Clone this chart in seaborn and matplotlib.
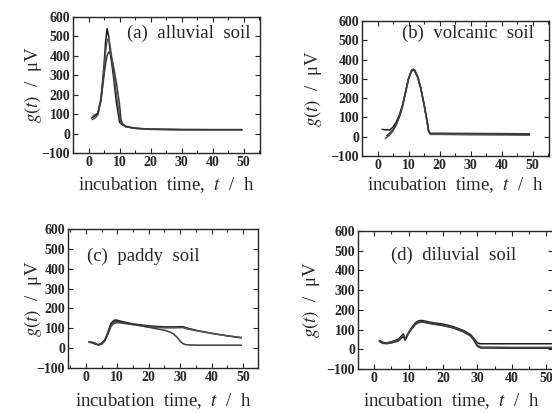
import numpy as np
import pandas as pd
import matplotlib
matplotlib.use("Agg")
import matplotlib.pyplot as plt
from matplotlib.ticker import MultipleLocator
import seaborn as sns

# (a) alluvial soil - three replicate curves
a_t1 = [1, 2, 3, 4, 5, 5.5, 6, 6.5, 7, 8, 9, 10, 10.5, 11, 12, 15, 20, 30, 40, 49.5]
a_g1 = [80, 90, 100, 180, 350, 470, 540, 500, 420, 300, 160, 60, 50, 45, 35, 27, 22, 20, 20, 20]
a_t2 = [1.2, 2, 3, 4, 5, 5.5, 6, 6.5, 7, 8, 9, 10, 10.5, 11, 12, 15, 20, 30, 40, 49.5]
a_g2 = [72, 78, 95, 170, 320, 420, 480, 490, 450, 330, 200, 90, 55, 48, 36, 27, 22, 20, 20, 20]
a_t3 = [1.5, 2, 3, 4, 5, 5.5, 6, 6.5, 7, 8, 9, 10, 10.5, 11, 12, 15, 20, 30, 40, 49.5]
a_g3 = [90, 95, 105, 170, 300, 360, 400, 420, 415, 350, 260, 150, 70, 50, 38, 28, 23, 21, 20, 20]

# (b) volcanic soil
b_t1 = [1.5, 2.5, 4, 5, 6, 7, 8, 9, 10, 11, 11.5, 12, 13, 14, 15, 16, 16.5, 17, 20, 30, 40, 49]
b_g1 = [38, 36, 35, 50, 75, 110, 160, 230, 300, 345, 350, 345, 310, 250, 170, 80, 30, 15, 15, 14, 13, 12]
b_t2 = [2.5, 4, 5, 6, 7, 8, 9, 10, 11, 11.5, 12, 13, 14, 15, 16, 16.5, 17, 20, 30, 40, 49]
b_g2 = [-10, 10, 30, 60, 100, 150, 225, 300, 340, 345, 340, 305, 245, 165, 75, 25, 12, 12, 10, 9, 8]
b_t3 = [3, 4, 5, 6, 7, 8, 9, 10, 11, 11.5, 12, 13, 14, 15, 16, 16.5, 17, 20, 30, 40, 49]
b_g3 = [5, 20, 35, 65, 105, 155, 228, 302, 342, 348, 342, 308, 248, 168, 78, 28, 18, 18, 17, 16, 15]

# (c) paddy soil
c_t1 = [1, 2, 3, 4, 5, 6, 7, 8, 9, 9.5, 10, 12, 15, 20, 25, 28, 30, 31, 32, 35, 40, 45, 49.5]
c_g1 = [30, 28, 20, 18, 25, 40, 80, 125, 140, 142, 140, 132, 122, 112, 107, 107, 108, 108, 102, 90, 75, 62, 52]
c_t2 = [1, 2, 3, 4, 5, 6, 7, 8, 9, 10, 12, 15, 20, 25, 28, 30, 31, 32, 35, 40, 45, 49.5]
c_g2 = [32, 30, 25, 15, 20, 35, 70, 110, 125, 128, 125, 118, 108, 102, 102, 103, 103, 98, 88, 74, 62, 54]
c_t3 = [1, 2, 3, 4, 5, 6, 7, 8, 9, 10, 12, 15, 20, 25, 27, 28, 29, 30, 31, 32, 35, 40, 49.5]
c_g3 = [30, 28, 22, 16, 22, 38, 75, 118, 132, 135, 128, 120, 105, 90, 80, 70, 55, 35, 22, 17, 15, 15, 15]

# (d) diluvial soil
d_t1 = [1.5, 2.5, 3.5, 5, 7, 8.5, 9, 9.5, 10, 11, 12, 13, 14, 17, 20, 23, 26, 28, 29, 30, 31, 40, 52]
d_g1 = [45, 35, 32, 38, 50, 78, 50, 70, 85, 112, 135, 145, 146, 135, 128, 115, 95, 75, 55, 32, 28, 28, 28]
d_t2 = [1.5, 2.5, 3.5, 5, 7, 8.5, 9, 9.5, 10, 11, 12, 13, 14, 17, 20, 23, 26, 28, 29, 30, 31, 40, 52]
d_g2 = [42, 32, 30, 35, 45, 70, 48, 65, 82, 108, 130, 140, 141, 130, 122, 110, 90, 70, 50, 22, 12, 10, 10]
d_t3 = [1.5, 2.5, 3.5, 5, 7, 8.5, 9, 9.5, 10, 11, 12, 13, 14, 17, 20, 23, 26, 28, 29, 30, 31, 40, 52]
d_g3 = [40, 30, 28, 32, 42, 65, 45, 62, 80, 105, 126, 136, 138, 128, 120, 108, 88, 68, 45, 15, 6, 5, 5]

titles = ["(a)  alluvial  soil", "(b)  volcanic  soil", "(c)  paddy  soil", "(d)  diluvial  soil"]
curves = [
    [(a_t1, a_g1), (a_t2, a_g2), (a_t3, a_g3)],
    [(b_t1, b_g1), (b_t2, b_g2), (b_t3, b_g3)],
    [(c_t1, c_g1), (c_t2, c_g2), (c_t3, c_g3)],
    [(d_t1, d_g1), (d_t2, d_g2), (d_t3, d_g3)],
]

sns.set_theme(style="ticks")
plt.rcParams['font.family'] = ['Liberation Serif', 'DejaVu Serif']
plt.rcParams['mathtext.fontset'] = 'stix'

W, H = 552, 413
fig = plt.figure(figsize=(W / 100, H / 100), dpi=100)

# pixel boxes: left, right, top, bottom
boxes = [(73, 260, 17, 153), (362, 549, 21, 156), (68, 258, 229, 368), (358, 553, 231, 369)]
xlims = [(-5, 55.3), (-5, 55.3), (-5.7, 54.8), (-4.7, 52)]
title_pos = [(0.95, 0.88, 'right'), (0.92, 0.91, 'right'), (0.10, 0.80, 'left'), (0.17, 0.82, 'left')]
# label centres in pixels: (xlabel x, xlabel y, ylabel x)
label_px = [(166, 185, 33), (455, 185, 313), (163, 401, 33), (451, 401, 311)]
colors = ['#1a1a1a', '#555555', '#3a3a3a']

for i, (l, r, t, b) in enumerate(boxes):
    ax = fig.add_axes([l / W, 1 - b / H, (r - l) / W, (b - t) / H])
    for j, (tt, gg) in enumerate(curves[i]):
        sns.lineplot(x=tt, y=gg, ax=ax, color=colors[j], lw=1.1, sort=False, estimator=None)
    ax.set_xlim(*xlims[i])
    ax.set_ylim(-100, 600)
    ax.set_xticks([0, 10, 20, 30, 40, 50])
    ax.set_yticks(range(-100, 601, 100))
    ax.xaxis.set_minor_locator(MultipleLocator(5))
    ax.tick_params(which='both', direction='in', top=True, right=True, width=0.8)
    ax.tick_params(which='major', length=3.5, labelsize=10, pad=2)
    ax.tick_params(which='minor', length=2)
    for lab in ax.get_xticklabels() + ax.get_yticklabels():
        lab.set_fontweight('bold')
    for s in ax.spines.values():
        s.set_linewidth(1.0)
    ax.set_xlabel("incubation  time,  $t$  /  h", fontsize=13.5, va='center')
    ax.set_ylabel("$g(t)$  /  μV", fontsize=13.5, va='center')
    xl, yl, xy = label_px[i]
    ax.xaxis.set_label_coords((xl - l) / (r - l), (b - yl) / (b - t))
    ax.yaxis.set_label_coords((xy - l) / (r - l), 0.5)
    x, y, ha = title_pos[i]
    ax.text(x, y, titles[i], transform=ax.transAxes, ha=ha, va='center', fontsize=13.5)

fig.savefig("out.png", dpi=100)
